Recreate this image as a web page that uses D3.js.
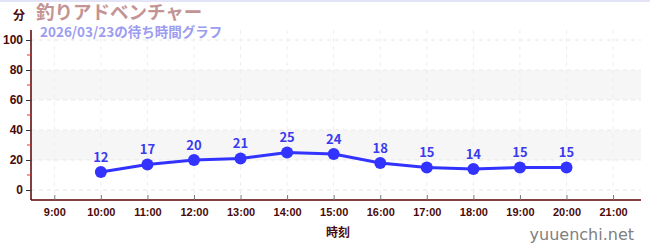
<!DOCTYPE html>
<html>
<head>
<meta charset="utf-8">
<script src="https://d3js.org/d3.v7.min.js"></script>
<style>
  body { margin: 0; background: #fff; }
  text { font-family: "Noto Sans CJK JP", "Noto Sans", sans-serif; }
</style>
</head>
<body>
<div id="chart"></div>
<script>
// wait times (minutes) per hour
var hours = [10, 11, 12, 13, 14, 15, 16, 17, 18, 19, 20];
var waits = [12, 17, 20, 21, 25, 24, 18, 15, 14, 15, 15];
var xTicks = [9, 10, 11, 12, 13, 14, 15, 16, 17, 18, 19, 20, 21];
var yTicks = [0, 20, 40, 60, 80, 100];
var yMinor = [10, 30, 50, 70, 90];
var bands = [[20, 40], [60, 80]];

var W = 650, H = 250;
var plotL = 31, plotR = 641, plotT = 30, plotB = 200;

var svg = d3.select("#chart").append("svg")
  .attr("width", W).attr("height", H);

// top border
svg.append("rect").attr("x", 0).attr("y", 0).attr("width", W).attr("height", 2)
  .attr("fill", "#e4e4f8");

var x = d3.scaleLinear().domain([8.5, 21.6]).range([plotL, plotR]);
var y = d3.scaleLinear().domain([-6.67, 106.67]).range([plotB, plotT]);

// shaded bands
svg.selectAll(".band").data(bands).enter().append("rect")
  .attr("x", plotL).attr("width", plotR - plotL)
  .attr("y", function (d) { return y(d[1]); })
  .attr("height", function (d) { return y(d[0]) - y(d[1]); })
  .attr("fill", "#f6f6f6");

// grid
svg.selectAll(".hg").data(yTicks).enter().append("line")
  .attr("x1", plotL).attr("x2", plotR)
  .attr("y1", function (d) { return y(d); }).attr("y2", function (d) { return y(d); })
  .attr("stroke", "#e8e8e8").attr("stroke-dasharray", "4,4");
svg.selectAll(".vg").data(xTicks).enter().append("line")
  .attr("y1", plotT).attr("y2", plotB)
  .attr("x1", function (d) { return x(d); }).attr("x2", function (d) { return x(d); })
  .attr("stroke", "#eeeeee").attr("stroke-dasharray", "4,4");

// y axis
var yAxis = svg.append("g").attr("transform", "translate(" + plotL + ",0)")
  .call(d3.axisLeft(y).tickValues(yTicks).tickSize(5).tickPadding(3));
yAxis.select(".domain").attr("stroke", "#5a0000").attr("stroke-width", 1.5)
  .attr("d", "M0," + plotT + "V" + plotB);
yAxis.selectAll(".tick line").attr("stroke", "#333");
yAxis.selectAll("text").attr("fill", "#4a0a0a").attr("font-size", 12).attr("font-weight", "bold")
  .style("font-family", "'Liberation Sans', sans-serif");
svg.selectAll(".minor").data(yMinor).enter().append("line")
  .attr("x1", plotL - 4).attr("x2", plotL)
  .attr("y1", function (d) { return y(d); }).attr("y2", function (d) { return y(d); })
  .attr("stroke", "#e03030");

// x axis
var xAxis = svg.append("g").attr("transform", "translate(0," + plotB + ")")
  .call(d3.axisBottom(x).tickValues(xTicks).tickSize(0).tickPadding(8)
    .tickFormat(function (d) { return d + ":00"; }));
xAxis.select(".domain").attr("stroke", "#5a0000").attr("stroke-width", 1.5)
  .attr("d", "M" + plotL + ",0H" + plotR);
xAxis.selectAll(".tick").append("line").attr("y1", 0).attr("y2", -5).attr("stroke", "#777");
xAxis.selectAll("text").attr("fill", "#4a0a0a").attr("font-size", 11).attr("font-weight", "bold")
  .style("font-family", "'Liberation Sans', sans-serif");

// line + points
var line = d3.line()
  .x(function (d, i) { return x(hours[i]); })
  .y(function (d) { return y(d); });
svg.append("path").datum(waits).attr("d", line)
  .attr("fill", "none").attr("stroke", "#3333ff").attr("stroke-width", 3);
svg.selectAll(".pt").data(waits).enter().append("circle")
  .attr("cx", function (d, i) { return x(hours[i]); })
  .attr("cy", function (d) { return y(d); })
  .attr("r", 6).attr("fill", "#3333ff");
svg.selectAll(".lbl").data(waits).enter().append("text")
  .attr("x", function (d, i) { return x(hours[i]); })
  .attr("y", function (d) { return y(d) - 10; })
  .attr("text-anchor", "middle").attr("fill", "#3a3aee")
  .attr("font-size", 13).attr("font-weight", "bold")
  .text(function (d) { return d; });

// titles
svg.append("text").attr("x", 13).attr("y", 20).text("分")
  .attr("fill", "#4a0a0a").attr("font-size", 12).attr("font-weight", "bold");
svg.append("text").attr("x", 36).attr("y", 19).text("釣りアドベンチャー")
  .attr("fill", "#c49494").attr("font-size", 18.5).attr("font-weight", "bold");
svg.append("text").attr("x", 40).attr("y", 37).text("2026/03/23の待ち時間グラフ")
  .attr("fill", "#9c9cf0").attr("font-size", 13.5).attr("font-weight", "bold");
svg.append("text").attr("x", 338).attr("y", 237).text("時刻")
  .attr("text-anchor", "middle").attr("fill", "#4a0a0a").attr("font-size", 12).attr("font-weight", "bold");
svg.append("text").attr("x", 634).attr("y", 240).text("yuuenchi.net")
  .attr("text-anchor", "end").attr("fill", "#808080").attr("font-size", 16)
  .style("font-family", "'DejaVu Sans', sans-serif");
</script>
</body>
</html>
